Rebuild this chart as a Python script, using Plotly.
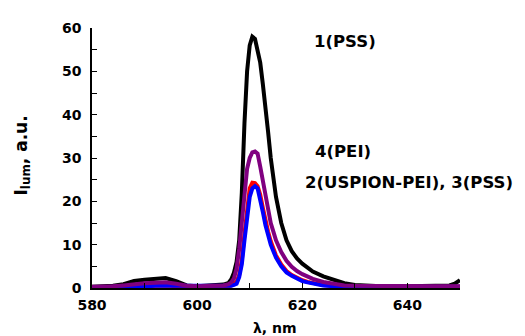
import plotly.graph_objects as go

wavelength = [580, 582, 584, 586, 588, 590, 592, 594, 596, 598, 600, 602, 604, 605, 606, 606.5,
              607, 607.5, 608, 608.5, 609, 609.5, 610, 610.5, 611, 611.5, 612, 612.5, 613, 613.5,
              614, 614.5, 615, 616, 617, 618, 619, 620, 621, 622, 624, 626, 628, 630, 635, 640,
              645, 648, 649, 650]

pss1 = [0.3, 0.4, 0.5, 0.9, 1.6, 1.9, 2.1, 2.3, 1.6, 0.6, 0.4, 0.5, 0.6, 0.8, 1.2, 2.0,
        3.5, 6.0, 11.0, 22.0, 38.0, 50.0, 56.0, 58.0, 57.5, 55.0, 52.0, 47.0, 42.0, 36.0,
        30.0, 25.0, 21.0, 15.0, 11.0, 8.5, 6.8, 5.6, 4.6, 3.8, 2.7, 1.8, 1.1, 0.7, 0.4, 0.4,
        0.4, 0.6, 1.0, 1.8]

uspion_pei2 = [0.2, 0.2, 0.2, 0.3, 0.3, 0.4, 0.5, 0.6, 0.4, 0.3, 0.3, 0.3, 0.3, 0.3, 0.4, 0.6,
               0.9, 1.4, 3.0, 6.5, 12.5, 19.0, 23.0, 24.3, 24.2, 23.5, 21.5, 18.5, 15.5, 13.0,
               10.8, 9.0, 7.5, 5.4, 3.9, 3.0, 2.3, 1.8, 1.4, 1.1, 0.7, 0.5, 0.4, 0.3, 0.3, 0.3,
               0.3, 0.3, 0.3, 0.3]

pss3 = [0.2, 0.2, 0.2, 0.3, 0.3, 0.4, 0.5, 0.5, 0.4, 0.3, 0.3, 0.3, 0.3, 0.3, 0.4, 0.5,
        0.7, 1.0, 2.5, 5.5, 11.0, 17.0, 21.0, 23.0, 23.5, 23.0, 20.5, 17.5, 14.5, 12.0,
        10.0, 8.5, 7.0, 5.0, 3.6, 2.8, 2.1, 1.6, 1.3, 1.0, 0.6, 0.4, 0.3, 0.3, 0.3, 0.3,
        0.3, 0.3, 0.3, 0.3]

pei4 = [0.3, 0.3, 0.4, 0.6, 0.9, 1.1, 1.2, 1.3, 1.0, 0.5, 0.4, 0.4, 0.5, 0.6, 0.9, 1.3,
        2.2, 4.5, 9.0, 16.0, 23.0, 27.5, 30.0, 31.3, 31.5, 31.0, 28.0, 24.5, 21.0, 18.0,
        15.0, 13.0, 11.0, 8.3, 6.3, 4.9, 3.9, 3.2, 2.6, 2.1, 1.4, 0.9, 0.6, 0.5, 0.4, 0.4,
        0.4, 0.4, 0.4, 0.4]

series = [
    ("1(PSS)", pss1, "#000000"),
    ("2(USPION-PEI)", uspion_pei2, "#ff0000"),
    ("3(PSS)", pss3, "#0000ff"),
    ("4(PEI)", pei4, "#800080"),
]

FONT = "DejaVu Sans"

fig = go.Figure()
for name, vals, color in series:
    fig.add_trace(go.Scatter(x=wavelength, y=vals, mode="lines", name=name,
                             line=dict(color=color, width=4), cliponaxis=False))

axis_common = dict(
    showgrid=False, zeroline=False, showline=True, linecolor="black", linewidth=1.5,
    ticks="inside", ticklen=5, tickwidth=1.2, tickcolor="black",
    tickfont=dict(family=FONT, size=14, color="black", weight="bold"),
)

fig.update_xaxes(range=[580, 650], tick0=580, dtick=20,
                 minor=dict(dtick=10, ticks="inside", ticklen=5, tickcolor="black"),
                 ticklabelstandoff=3, **axis_common)
fig.update_yaxes(range=[0, 60], tick0=0, dtick=10,
                 minor=dict(dtick=5, ticks="inside", ticklen=5, tickcolor="black"),
                 ticklabelstandoff=6, **axis_common)

ann_font = dict(family=FONT, size=16.5, color="black", weight="bold")
fig.add_annotation(x=621.8, y=56.9, xref="x", yref="y", text="1(PSS)", showarrow=False,
                   xanchor="left", yanchor="middle", font=ann_font)
fig.add_annotation(x=622.0, y=31.5, xref="x", yref="y", text="4(PEI)", showarrow=False,
                   xanchor="left", yanchor="middle", font=ann_font)
fig.add_annotation(x=620.1, y=24.3, xref="x", yref="y", text="2(USPION-PEI), 3(PSS)",
                   showarrow=False, xanchor="left", yanchor="middle", font=ann_font)

fig.add_annotation(x=-0.19, y=0.51, xref="paper", yref="paper", text="I<sub>lum</sub>, a.u.",
                   showarrow=False, textangle=-90, xanchor="center", yanchor="middle",
                   font=dict(family=FONT, size=17, color="black", weight="bold"))
fig.add_annotation(x=0.497, y=-0.154, xref="paper", yref="paper", text="λ, nm",
                   showarrow=False, xanchor="center", yanchor="middle",
                   font=dict(family=FONT, size=14, color="black", weight="bold"))

fig.update_layout(
    width=525, height=336,
    margin=dict(l=84, r=73, t=13, b=56),
    paper_bgcolor="white", plot_bgcolor="white",
    showlegend=False,
)

fig.write_html("out.html")
